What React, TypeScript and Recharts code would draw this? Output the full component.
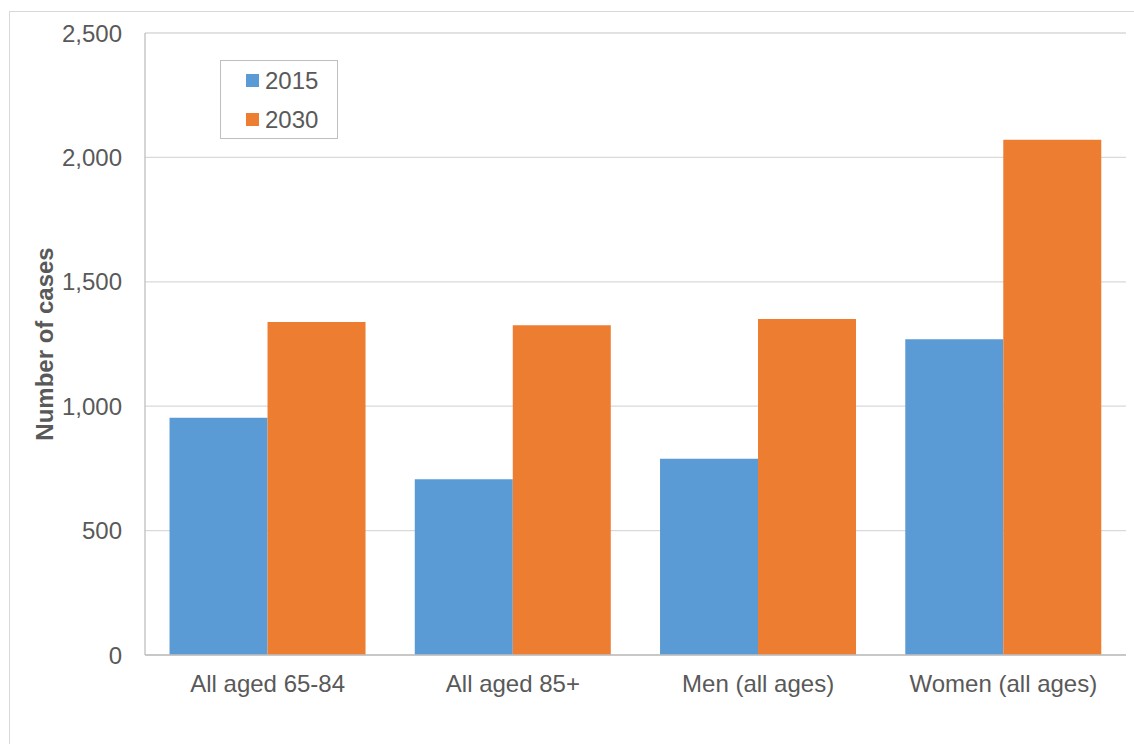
import { BarChart, Bar, XAxis, YAxis, CartesianGrid, Legend } from 'recharts';

const categories = ['All aged 65-84', 'All aged 85+', 'Men (all ages)', 'Women (all ages)'];
const cases2015 = [954, 706, 789, 1269];
const cases2030 = [1338, 1325, 1350, 2071];
const yTicks = [0, 500, 1000, 1500, 2000, 2500];

const FONT = '"Liberation Sans", Arial, sans-serif';
const TEXT_COLOR = '#595959';

const data = categories.map((name, i) => ({
  name,
  y2015: cases2015[i],
  y2030: cases2030[i],
}));

const renderLegend = ({ payload }: any) => (
  <div
    style={{
      width: 118,
      height: 79,
      boxSizing: 'border-box',
      border: '1px solid #bfbfbf',
      background: '#fff',
      paddingLeft: 25,
      fontFamily: FONT,
    }}
  >
    {(payload || []).map((entry: any) => (
      <div key={entry.value} style={{ display: 'flex', alignItems: 'center', height: 39 }}>
        <span style={{ width: 13, height: 13, background: entry.color, marginRight: 6, display: 'inline-block' }} />
        <span style={{ fontSize: 24, color: TEXT_COLOR, lineHeight: '24px' }}>{entry.value}</span>
      </div>
    ))}
  </div>
);

const renderYLabel = () => (
  <text
    transform="translate(44,344) rotate(-90)"
    textAnchor="middle"
    dominantBaseline="central"
    fontFamily={FONT}
    fontSize={24}
    fontWeight="bold"
    fill={TEXT_COLOR}
  >
    Number of cases
  </text>
);

const App = () => {
  return (
    <div style={{ position: 'absolute', left: 0, top: 0, width: 1134, height: 744, overflow: 'hidden', background: '#fff' }}>
      <div
        style={{
          position: 'absolute',
          left: 9,
          top: 11,
          width: 1200,
          height: 800,
          borderTop: '1px solid #d9d9d9',
          borderLeft: '1px solid #d9d9d9',
        }}
      />
      <BarChart
        width={1134}
        height={744}
        data={data}
        margin={{ top: 33, right: 8, bottom: 29, left: 0 }}
        barCategoryGap="10%"
        barGap={0}
        style={{ position: 'absolute', left: 0, top: 0 }}
      >
        <CartesianGrid vertical={false} stroke="#d9d9d9" strokeWidth={1.3} />
        <XAxis
          dataKey="name"
          height={60}
          tickSize={0}
          tickMargin={20}
          axisLine={{ stroke: '#bfbfbf', strokeWidth: 1.3 }}
          tick={{ fill: TEXT_COLOR, fontSize: 24, fontFamily: FONT }}
        />
        <YAxis
          width={145}
          domain={[0, 2500]}
          ticks={yTicks}
          tickSize={0}
          tickMargin={23}
          axisLine={{ stroke: '#bfbfbf', strokeWidth: 1.3 }}
          tickFormatter={(v: number) => v.toLocaleString('en-US')}
          tick={{ fill: TEXT_COLOR, fontSize: 24, fontFamily: FONT }}
          label={{ content: renderYLabel }}
        />
        <Legend
          layout="vertical"
          align="center"
          verticalAlign="middle"
          content={renderLegend}
          wrapperStyle={{ left: 220, top: 60, width: 118, height: 79 }}
        />
        <Bar dataKey="y2015" name="2015" fill="#5b9bd5" isAnimationActive={false} />
        <Bar dataKey="y2030" name="2030" fill="#ed7d31" isAnimationActive={false} />
      </BarChart>
    </div>
  );
};

export default App;
